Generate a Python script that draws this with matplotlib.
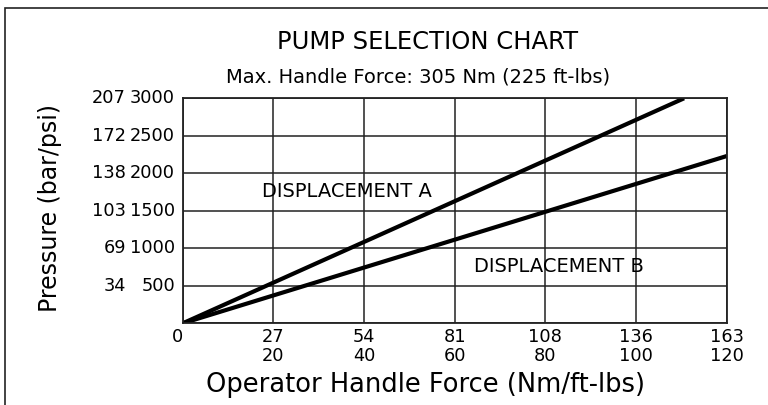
import matplotlib.pyplot as plt
from matplotlib.patches import Rectangle
import matplotlib.transforms as mtransforms

plt.rcParams['font.family'] = 'DejaVu Sans'

# axis ticks
ftlbs = [0, 20, 40, 60, 80, 100, 120]
nm = [0, 27, 54, 81, 108, 136, 163]
psi = [500, 1000, 1500, 2000, 2500, 3000]
bar = [34, 69, 103, 138, 172, 207]

# pump curves (force in ft-lbs, pressure in psi)
force_a = [0, 110.6]
press_a = [0, 3000]
force_b = [0, 120]
press_b = [0, 2230]

fig = plt.figure(figsize=(7.68, 4.05), dpi=100)
ax = fig.add_axes([0.2379, 0.2017, 0.7083, 0.5556])

# outer frame (only left/top edges fall inside the picture)
fig.patches.append(Rectangle((5 / 768, -0.1), 1.2, 1 - 8 / 405 + 0.1,
                             transform=fig.transFigure, fill=False,
                             edgecolor='#222222', linewidth=1.2))

ax.plot(force_a, press_a, color='black', linewidth=3, solid_capstyle='butt')
ax.plot(force_b, press_b, color='black', linewidth=3, solid_capstyle='butt')

ax.set_xlim(0, 120)
ax.set_ylim(0, 3000)
ax.set_xticks(ftlbs)
ax.set_yticks([0] + psi)
ax.grid(True, color='#222222', linewidth=1.1)
ax.tick_params(length=0, labelbottom=False, labelleft=False)
for s in ax.spines.values():
    s.set_color('#222222')
    s.set_linewidth(1.3)

fs = 12.8
ytr = mtransforms.blended_transform_factory(fig.transFigure, ax.transData)
for p, b in zip(psi, bar):
    ax.text(175 / 768, p, str(p), transform=ytr, ha='right', va='center', fontsize=fs)
    ax.text(126 / 768, p, str(b), transform=ytr, ha='right', va='center', fontsize=fs)

xtr = mtransforms.blended_transform_factory(ax.transData, fig.transFigure)
ax.text(-1.2, 1 - 337 / 405, '0', transform=xtr, ha='center', va='center', fontsize=fs)
for f, n in zip(ftlbs[1:], nm[1:]):
    ax.text(f, 1 - 337 / 405, str(n), transform=xtr, ha='center', va='center', fontsize=fs)
    ax.text(f, 1 - 356 / 405, str(f), transform=xtr, ha='center', va='center', fontsize=fs)

ax.text(36.2, 1764, 'DISPLACEMENT A', ha='center', va='center', fontsize=14)
ax.text(82.9, 751, 'DISPLACEMENT B', ha='center', va='center', fontsize=14)

fig.text(428 / 768, 1 - 42 / 405, 'PUMP SELECTION CHART', ha='center', va='center', fontsize=17.5)
fig.text(418 / 768, 1 - 77 / 405, 'Max. Handle Force: 305 Nm (225 ft-lbs)',
         ha='center', va='center', fontsize=14)
fig.text(425 / 768, 1 - 385 / 405, 'Operator Handle Force (Nm/ft-lbs)',
         ha='center', va='center', fontsize=18.5)
fig.text(50 / 768, 1 - 208 / 405, 'Pressure (bar/psi)', rotation=90,
         ha='center', va='center', fontsize=17)

fig.savefig('out.png', dpi=100)
